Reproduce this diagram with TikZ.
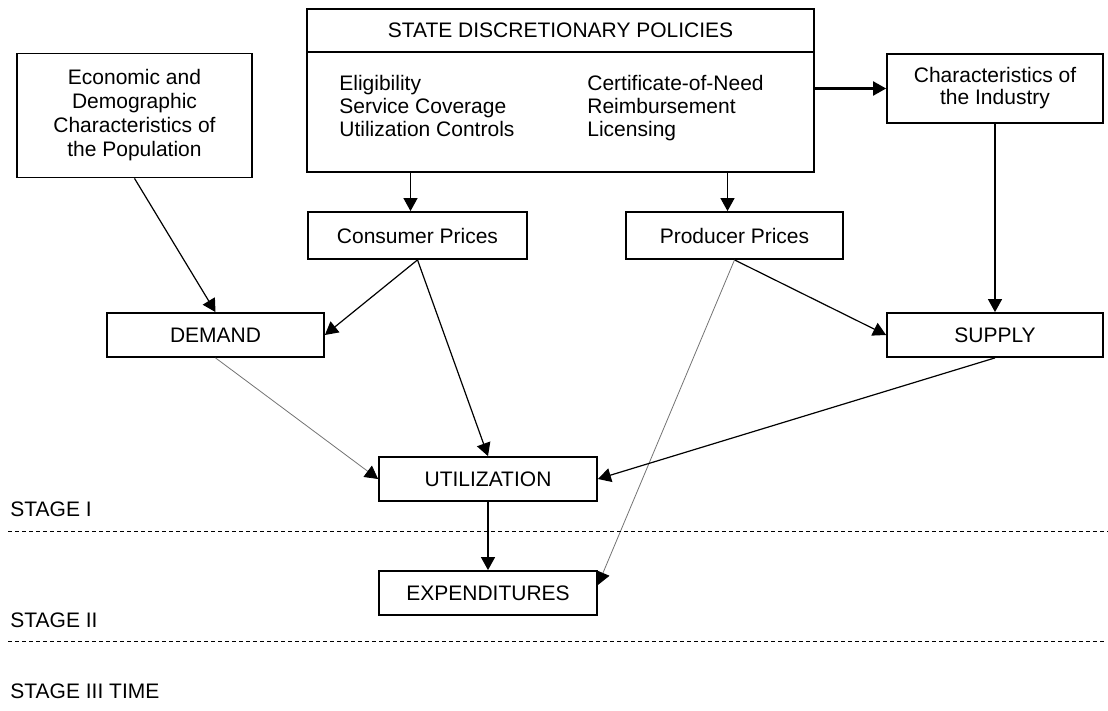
\documentclass[tikz,border=0pt]{standalone}
\usepackage{fontspec}
\setmainfont{Liberation Sans}
\usetikzlibrary{arrows.meta}

\begin{document}
\begin{tikzpicture}[x=0.5pt,y=-0.5pt,
  every node/.style={font=\fontsize{10.5}{11.5}\selectfont},
  box/.style={draw,line width=0.9pt,inner sep=0pt,align=center},
  arr/.style={line width=0.6pt,-{Triangle[length=6.5pt,width=7pt]}},
  faint/.style={draw=black!55,line width=0.4pt,-{Triangle[length=6.5pt,width=7pt,color=black]}},
  stageline/.style={dash pattern=on 2pt off 1.5pt,line width=0.5pt}]
  \useasboundingbox (0,0) rectangle (1108,711);

  \node[box,minimum width=117.5pt,minimum height=62pt,font=\fontsize{10.5}{12}\selectfont] (econ) at (134.5,115.5)
    {Economic and\\Demographic\\Characteristics of\\the Population};
  \node[box,minimum width=253.5pt,minimum height=21.5pt] (head) at (560.5,30.5) {STATE DISCRETIONARY POLICIES};
  \node[box,minimum width=253.5pt,minimum height=60pt] (policy) at (560.5,112) {};
  \foreach \txt [count=\i] in {Eligibility,Service Coverage,Utilization Controls}
    \node[anchor=base west,inner sep=0pt] (tool\i) at (339,68+23*\i) {\txt};
  \foreach \txt [count=\i] in {Certificate-of-Need,Reimbursement,Licensing}
    \node[anchor=base west,inner sep=0pt] (rule\i) at (587,68+23*\i) {\txt};
  \node[box,minimum width=108pt,minimum height=34.5pt,font=\fontsize{10.5}{11}\selectfont] (industry) at (995,88.5)
    {Characteristics of\\the Industry};

  \node[box,minimum width=109.5pt,minimum height=23.5pt] (consumer) at (417.5,235.5) {Consumer Prices};
  \node[box,minimum width=108.5pt,minimum height=23.5pt] (producer) at (734.5,235.5) {Producer Prices};
  \node[box,minimum width=108.5pt,minimum height=22pt] (demand) at (215.5,335) {DEMAND};
  \node[box,minimum width=108pt,minimum height=22pt] (supply) at (995,335) {SUPPLY};
  \node[box,minimum width=109pt,minimum height=22pt] (util) at (488,479) {UTILIZATION};
  \node[box,minimum width=109pt,minimum height=22pt] (expend) at (488,593) {EXPENDITURES};

  \draw[arr] ([xshift=-3.5pt]consumer.north |- policy.south) -- ([xshift=-3.5pt]consumer.north);
  \draw[arr] ([xshift=-3.5pt]producer.north |- policy.south) -- ([xshift=-3.5pt]producer.north);
  \draw[arr,line width=1.1pt] (policy.east |- industry.west) -- (industry.west);
  \draw[arr] (industry.south) -- (supply.north);
  \draw[arr] (econ.south) -- (demand.north);
  \draw[arr] (consumer.south) -- (demand.east);
  \draw[arr] (consumer.south) -- (util.north);
  \draw[arr] (producer.south) -- (supply.west);
  \draw[faint] (producer.south) -- ([yshift=4pt]expend.east);
  \draw[faint] (demand.south) -- (util.west);
  \draw[arr] (supply.south) -- (util.east);
  \draw[arr] (util.south) -- (expend.north);

  \draw[stageline] (8,531) -- (1108,531);
  \draw[stageline] (8,641) -- (1104,641);
  \node[anchor=base west,inner sep=0pt] (stage1) at (10,516) {STAGE I};
  \node[anchor=base west,inner sep=0pt] (stage2) at (10,627) {STAGE II};
  \node[anchor=base west,inner sep=0pt] (stage3) at (10,698) {STAGE III TIME};
\end{tikzpicture}
\end{document}
